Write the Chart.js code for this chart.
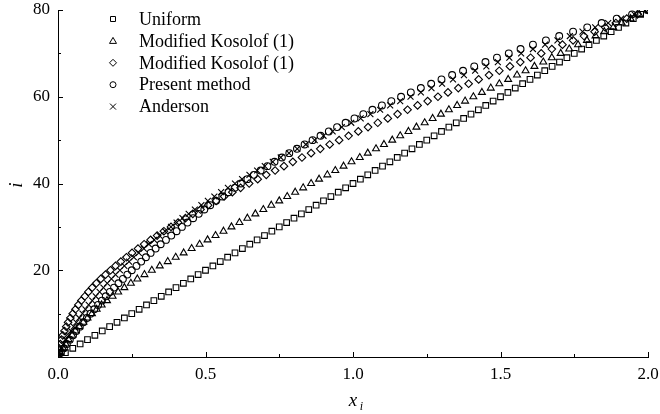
<!DOCTYPE html>
<html>
<head>
<meta charset="utf-8">
<script src="https://cdn.jsdelivr.net/npm/chart.js@4.4.1/dist/chart.umd.min.js"></script>
<style>
    html, body { margin: 0; padding: 0; background: #fff; }
    #box { width: 660px; height: 414px; }
</style>
</head>
<body>
<div id="box"><canvas id="grafico"></canvas></div>
<script>
// grid index i (y axis)
const indexI = [
    0, 1, 2, 3, 4, 5, 6, 7, 8, 9, 10,
    11, 12, 13, 14, 15, 16, 17, 18, 19, 20,
    21, 22, 23, 24, 25, 26, 27, 28, 29, 30,
    31, 32, 33, 34, 35, 36, 37, 38, 39, 40,
    41, 42, 43, 44, 45, 46, 47, 48, 49, 50,
    51, 52, 53, 54, 55, 56, 57, 58, 59, 60,
    61, 62, 63, 64, 65, 66, 67, 68, 69, 70,
    71, 72, 73, 74, 75, 76, 77, 78, 79, 80
];

// x_i for each method
const xUniform = [
    0, 0.025, 0.05, 0.075, 0.1, 0.125, 0.15, 0.175, 0.2, 0.225, 0.25,
    0.275, 0.3, 0.325, 0.35, 0.375, 0.4, 0.425, 0.45, 0.475, 0.5,
    0.525, 0.55, 0.575, 0.6, 0.625, 0.65, 0.675, 0.7, 0.725, 0.75,
    0.775, 0.8, 0.825, 0.85, 0.875, 0.9, 0.925, 0.95, 0.975, 1.0,
    1.025, 1.05, 1.075, 1.1, 1.125, 1.15, 1.175, 1.2, 1.225, 1.25,
    1.275, 1.3, 1.325, 1.35, 1.375, 1.4, 1.425, 1.45, 1.475, 1.5,
    1.525, 1.55, 1.575, 1.6, 1.625, 1.65, 1.675, 1.7, 1.725, 1.75,
    1.775, 1.8, 1.825, 1.85, 1.875, 1.9, 1.925, 1.95, 1.975, 2.0
];
const xKosolof1 = [
    0, 0.008, 0.017, 0.026, 0.036, 0.048, 0.059, 0.072, 0.086, 0.100, 0.115,
    0.131, 0.148, 0.166, 0.185, 0.204, 0.225, 0.247, 0.269, 0.293, 0.318,
    0.345, 0.372, 0.399, 0.426, 0.453, 0.480, 0.507, 0.534, 0.561, 0.588,
    0.615, 0.642, 0.669, 0.696, 0.723, 0.750, 0.777, 0.804, 0.831, 0.858,
    0.885, 0.913, 0.940, 0.968, 0.995, 1.023, 1.050, 1.078, 1.105, 1.133,
    1.160, 1.188, 1.215, 1.243, 1.270, 1.298, 1.325, 1.353, 1.380, 1.408,
    1.437, 1.467, 1.496, 1.526, 1.556, 1.585, 1.615, 1.645, 1.674, 1.704,
    1.733, 1.763, 1.793, 1.822, 1.852, 1.882, 1.911, 1.941, 1.970, 2.0
];
const xKosolof2 = [
    0, 0.002, 0.004, 0.008, 0.012, 0.016, 0.022, 0.028, 0.034, 0.042, 0.050,
    0.059, 0.069, 0.079, 0.091, 0.103, 0.116, 0.130, 0.145, 0.161, 0.178,
    0.195, 0.213, 0.232, 0.251, 0.271, 0.292, 0.314, 0.336, 0.359, 0.383,
    0.407, 0.432, 0.457, 0.483, 0.509, 0.536, 0.563, 0.591, 0.619, 0.648,
    0.677, 0.706, 0.736, 0.766, 0.796, 0.827, 0.858, 0.889, 0.921, 0.953,
    0.985, 1.018, 1.051, 1.084, 1.118, 1.151, 1.185, 1.219, 1.253, 1.288,
    1.322, 1.357, 1.392, 1.426, 1.461, 1.496, 1.532, 1.567, 1.602, 1.638,
    1.674, 1.710, 1.746, 1.783, 1.819, 1.855, 1.891, 1.928, 1.964, 2.0
];
const xPresent = [
    0, 0.010, 0.020, 0.030, 0.040, 0.051, 0.062, 0.074, 0.086, 0.098, 0.110,
    0.123, 0.136, 0.149, 0.162, 0.176, 0.190, 0.205, 0.220, 0.235, 0.250,
    0.266, 0.282, 0.298, 0.314, 0.331, 0.348, 0.366, 0.384, 0.402, 0.420,
    0.439, 0.458, 0.477, 0.496, 0.516, 0.536, 0.557, 0.578, 0.599, 0.620,
    0.642, 0.664, 0.687, 0.710, 0.734, 0.759, 0.784, 0.810, 0.836, 0.863,
    0.890, 0.918, 0.946, 0.975, 1.005, 1.035, 1.066, 1.098, 1.130, 1.163,
    1.196, 1.230, 1.265, 1.300, 1.336, 1.373, 1.411, 1.449, 1.488, 1.528,
    1.568, 1.610, 1.654, 1.699, 1.746, 1.794, 1.843, 1.894, 1.946, 2.0
];
const xAnderson = [
    0, 0.006, 0.013, 0.020, 0.028, 0.036, 0.044, 0.053, 0.062, 0.072, 0.083,
    0.093, 0.104, 0.116, 0.128, 0.141, 0.154, 0.167, 0.181, 0.195, 0.210,
    0.225, 0.241, 0.257, 0.274, 0.291, 0.308, 0.326, 0.344, 0.363, 0.383,
    0.402, 0.422, 0.443, 0.464, 0.486, 0.508, 0.530, 0.553, 0.576, 0.600,
    0.624, 0.649, 0.675, 0.701, 0.728, 0.755, 0.783, 0.811, 0.840, 0.870,
    0.900, 0.931, 0.962, 0.994, 1.026, 1.059, 1.092, 1.126, 1.160, 1.195,
    1.230, 1.266, 1.302, 1.339, 1.376, 1.414, 1.452, 1.491, 1.530, 1.570,
    1.610, 1.651, 1.693, 1.735, 1.778, 1.821, 1.865, 1.909, 1.954, 2.0
];

const seriesNames = ['Uniform', 'Modified Kosolof (1)', 'Modified Kosolof (1)', 'Present method', 'Anderson'];
const xTicks = [0, 0.5, 1.0, 1.5, 2.0];
const yTicks = [20, 40, 60, 80];

const serif = '"Liberation Serif", "DejaVu Serif", serif';

function pontos(xs) {
    return xs.map((x, k) => ({ x: x, y: indexI[k] }));
}

function serie(nome, xs, estilo, raio) {
    return {
        label: nome,
        data: pontos(xs),
        showLine: false,
        pointStyle: estilo,
        pointRadius: raio,
        pointHoverRadius: raio,
        pointBorderWidth: 1.1,
        borderColor: '#000',
        backgroundColor: 'rgba(0,0,0,0)'
    };
}

// little marker painter for the legend
function marcador(ctx, estilo, x, y) {
    ctx.beginPath();
    if (estilo === 'rect') {
        ctx.rect(x - 2.5, y - 2.5, 5, 5);
    } else if (estilo === 'triangle') {
        ctx.moveTo(x, y - 3.5);
        ctx.lineTo(x + 3.5, y + 2.5);
        ctx.lineTo(x - 3.5, y + 2.5);
        ctx.closePath();
    } else if (estilo === 'rectRot') {
        ctx.moveTo(x, y - 3.5);
        ctx.lineTo(x + 3.5, y);
        ctx.lineTo(x, y + 3.5);
        ctx.lineTo(x - 3.5, y);
        ctx.closePath();
    } else if (estilo === 'circle') {
        ctx.arc(x, y, 3, 0, Math.PI * 2);
    } else {
        ctx.moveTo(x - 3, y - 3); ctx.lineTo(x + 3, y + 3);
        ctx.moveTo(x + 3, y - 3); ctx.lineTo(x - 3, y + 3);
    }
    ctx.stroke();
}

const extras = {
    id: 'extras',
    afterDraw(chart) {
        const ctx = chart.ctx;
        const sx = chart.scales.x;
        const sy = chart.scales.y;
        const area = chart.chartArea;
        ctx.save();
        ctx.strokeStyle = '#000';
        ctx.lineWidth = 1;

        // inward tick marks
        for (let v = 0; v <= 2.0001; v += 0.25) {
            const px = Math.round(sx.getPixelForValue(v)) + 0.5;
            const len = Math.abs(v * 2 - Math.round(v * 2)) < 1e-6 ? 5 : 3;
            ctx.beginPath();
            ctx.moveTo(px, area.bottom);
            ctx.lineTo(px, area.bottom - len);
            ctx.stroke();
        }
        for (let v = 0; v <= 80; v += 10) {
            const py = Math.round(sy.getPixelForValue(v)) + 0.5;
            const len = v % 20 === 0 ? 5 : 3;
            ctx.beginPath();
            ctx.moveTo(area.left, py);
            ctx.lineTo(area.left + len, py);
            ctx.stroke();
        }

        // legend
        const estilos = ['rect', 'triangle', 'rectRot', 'circle', 'x'];
        ctx.font = '18px ' + serif;
        ctx.fillStyle = '#000';
        ctx.textBaseline = 'middle';
        ctx.textAlign = 'left';
        seriesNames.forEach((nome, k) => {
            const y = 19 + k * 21.9;
            marcador(ctx, estilos[k], 113, y);
            ctx.fillText(nome, 139, y + 1);
        });

        // axis titles
        ctx.font = 'italic 19px ' + serif;
        ctx.textAlign = 'center';
        ctx.fillText('x', 353, 401);
        ctx.font = 'italic 12px ' + serif;
        ctx.fillText('i', 361.5, 407);

        ctx.translate(17, 185);
        ctx.rotate(-Math.PI / 2);
        ctx.font = 'italic 19px ' + serif;
        ctx.fillText('i', 0, 0);
        ctx.restore();
    }
};

const ctx = document.getElementById('grafico').getContext('2d');
const grafico = new Chart(ctx, {
    type: 'scatter',
    data: {
        datasets: [
            serie(seriesNames[0], xUniform, 'rect', 4),
            serie(seriesNames[1], xKosolof1, 'triangle', 4),
            serie(seriesNames[2], xKosolof2, 'rectRot', 3.8),
            serie(seriesNames[3], xPresent, 'circle', 3.4),
            serie(seriesNames[4], xAnderson, 'crossRot', 4.2)
        ]
    },
    options: {
        responsive: true,
        maintainAspectRatio: false,
        animation: false,
        layout: { padding: { top: 10, right: 12, left: 0, bottom: 0 } },
        plugins: {
            legend: { display: false },
            tooltip: { enabled: false }
        },
        scales: {
            x: {
                type: 'linear',
                min: 0,
                max: 2,
                afterBuildTicks: s => { s.ticks = xTicks.map(v => ({ value: v })); },
                ticks: {
                    callback: v => Number(v).toFixed(1),
                    color: '#000',
                    font: { family: serif, size: 17 },
                    padding: 7,
                    maxRotation: 0
                },
                grid: { drawOnChartArea: false, drawTicks: false },
                border: { display: true, color: '#000', width: 1 },
                afterFit: s => {
                    s.height = 57;
                    s.paddingLeft = 0;
                    s.paddingRight = 0;
                }
            },
            y: {
                min: 0,
                max: 80,
                afterBuildTicks: s => { s.ticks = yTicks.map(v => ({ value: v })); },
                ticks: {
                    color: '#000',
                    font: { family: serif, size: 17 },
                    padding: 8
                },
                grid: { drawOnChartArea: false, drawTicks: false },
                border: { display: true, color: '#000', width: 1 },
                afterFit: s => {
                    s.width = 58;
                    s.paddingTop = 0;
                    s.paddingBottom = 0;
                }
            }
        }
    },
    plugins: [extras]
});
</script>
</body>
</html>
